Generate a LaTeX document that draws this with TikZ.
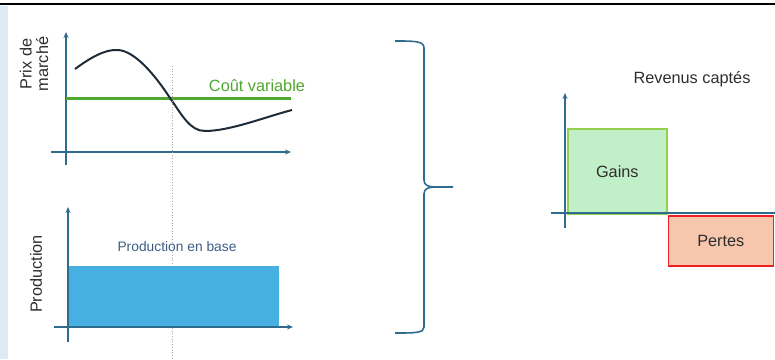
\documentclass[tikz,border=0pt]{standalone}
\usepackage{fontspec}
\setmainfont{Liberation Sans}
\usetikzlibrary{arrows.meta}
\definecolor{axisblue}{HTML}{2F6B8C}
\definecolor{curvedark}{HTML}{1E2B38}
\definecolor{costgreen}{HTML}{4EA72E}
\definecolor{prodblue}{HTML}{45B0E1}
\definecolor{prodtext}{HTML}{3D5C84}
\definecolor{gainfill}{HTML}{C1F0C8}
\definecolor{gainedge}{HTML}{92D050}
\definecolor{lossfill}{HTML}{F6C6AD}
\definecolor{lossedge}{HTML}{F02020}
\definecolor{sidestrip}{HTML}{DDEBF7}
\definecolor{labeltext}{HTML}{2E2E2E}
\tikzset{
  axis/.style={draw=axisblue, line width=1.4pt, -{Stealth[length=6pt,width=5pt]}},
  axisplain/.style={draw=axisblue, line width=1.4pt},
  lbl/.style={font=\fontsize{16.3}{16.5}\selectfont, text=labeltext, inner sep=0pt},
  smalllbl/.style={font=\fontsize{13.8}{15}\selectfont, text=prodtext, inner sep=0pt},
}
\begin{document}
\begin{tikzpicture}[x=1pt,y=-1pt]
\useasboundingbox (0,0) rectangle (775,359);
% frame: top rule and left strip
\fill[sidestrip] (0,5.5) rectangle (8,359);
\draw[black, line width=1.5pt] (0,4) -- (775,4);

% ---- price chart ----
\coordinate (p0y) at (66,165);
\coordinate (p1y) at (66,32);
\coordinate (p0x) at (51,152);
\coordinate (p1x) at (291,152);
\draw[axis] (p0y) -- (p1y);
\draw[axis] (p0x) -- (p1x);
\coordinate (c0) at (66,98.5);
\coordinate (c1) at (291,98.5);
\draw[costgreen, line width=2.5pt] (c0) -- (c1);
\node[lbl, text=costgreen] (cv) at (257,86) {Coût variable};
\draw[curvedark, line width=2pt] (75,69) .. controls (90,58) and (105,49) .. (118,50)
  .. controls (135,51) and (155,75) .. (170,98)
  .. controls (182,115) and (190,131) .. (205,131)
  .. controls (230,131) and (265,117) .. (292,110);
\node[lbl, rotate=90, align=center] (prix) at (34,64) {Prix de\\marché};
% vertical marker through both charts
\coordinate (m0) at (172.5,66);
\coordinate (m1) at (172.5,359);
\draw[gray!70, dotted, line width=0.7pt] (m0) -- (m1);

% ---- production chart ----
\fill[prodblue] (68,266) rectangle (279,327);
\coordinate (q0y) at (68,342);
\coordinate (q1y) at (68,207);
\coordinate (q0x) at (54,327);
\coordinate (q1x) at (293,327);
\draw[axis] (q0y) -- (q1y);
\draw[axis] (q0x) -- (q1x);
\node[smalllbl] (base) at (177,247) {Production en base};
\node[lbl, rotate=90] (prod) at (36,274) {Production};

% ---- brace ----
\draw[axisblue, line width=1.6pt] (395,41) .. controls (415,41) and (424,41) .. (424,48)
  -- (424,180) .. controls (424,185) and (428,187) .. (435,187) -- (453,187)
  (435,187) .. controls (428,187) and (424,189) .. (424,194)
  -- (424,327) .. controls (424,333) and (415,333) .. (395,333);

% ---- revenue chart ----
\node[lbl] (rev) at (692,79) {Revenus captés};
\node[draw=gainedge, fill=gainfill, line width=1.6pt, minimum width=99pt, minimum height=85pt, inner sep=0pt, anchor=north west] (gain) at (567,128) {};
\node[lbl] at (gain.center) {Gains};
\node[draw=lossedge, fill=lossfill, line width=1.6pt, minimum width=105pt, minimum height=50pt, inner sep=0pt, anchor=north west] (loss) at (667.5,215) {};
\node[lbl] at (loss.center) {Pertes};
\coordinate (r0y) at (565,228);
\coordinate (r1y) at (565,93);
\coordinate (r0x) at (551,213);
\coordinate (r1x) at (775,213);
\draw[axis] (r0y) -- (r1y);
\draw[axisplain] (r0x) -- (r1x);
\end{tikzpicture}
\end{document}
